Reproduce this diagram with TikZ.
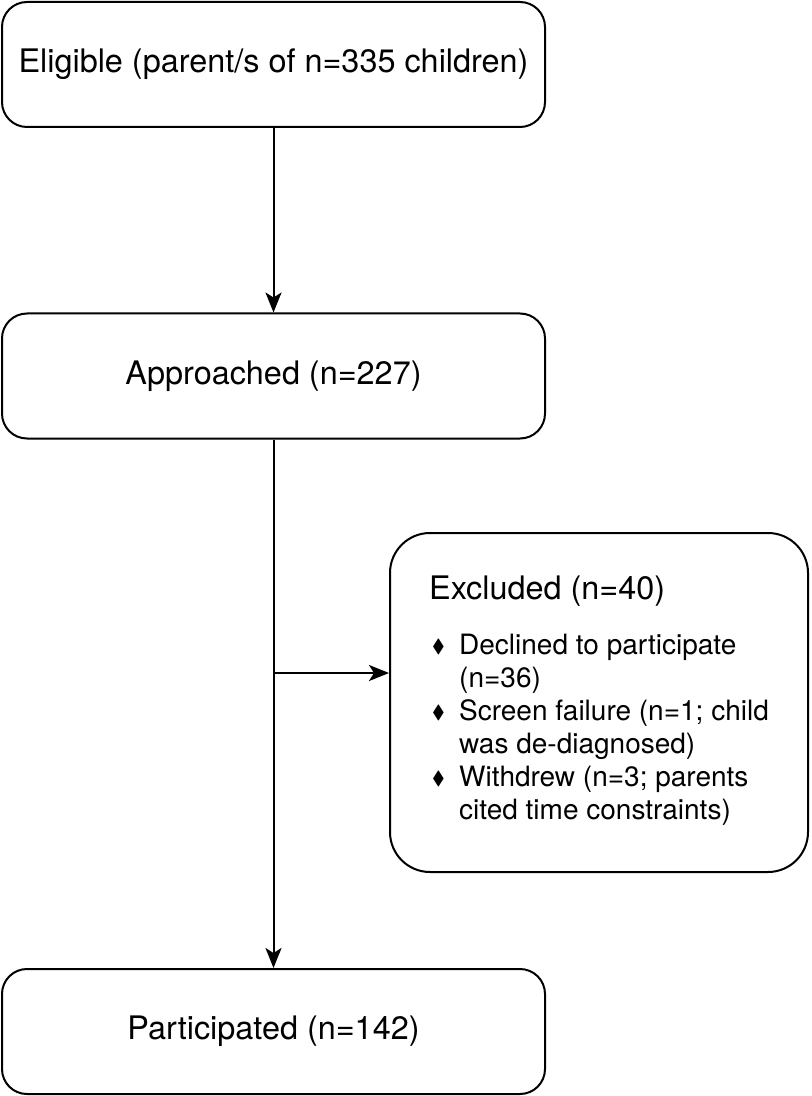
\documentclass[tikz,border=0pt]{standalone}
\usepackage{amssymb}
\usepackage{graphicx}
\usepackage{fontspec}
\setmainfont{TeX Gyre Heros}
\usetikzlibrary{arrows.meta}
\tikzset{basic/.style={draw,line width=1pt,rounded corners=12.5pt,
                       text badly centered,font=\fontsize{16.2}{19}\selectfont}}
\tikzset{stage/.style={basic,minimum width=271.5pt,minimum height=62.5pt}}
\tikzset{exclbox/.style={basic,rounded corners=20pt,minimum width=209pt,
                         minimum height=169.5pt,align=left,
                         font=\fontsize{14}{16.5}\selectfont}}
\newcommand{\bul}{\makebox[15pt][l]{\hspace{1.5pt}\raisebox{0.15ex}{\scalebox{0.68}{$\blacklozenge$}}}}

\begin{document}
\begin{tikzpicture}[x=0.5pt,y=-0.5pt,line width=1pt,
    >={Stealth[length=10pt,width=8pt,inset=2.5pt]}]
    \useasboundingbox (0,0) rectangle (812,1096);

    \node[stage] (elig) at (273.5,64.5) {Eligible (parent/s of n=335 children)};
    \node[stage] (appr) at (273.5,376) {Approached (n=227)};
    \node[stage] (part) at (273.5,1031.5) {Participated (n=142)};

    \node[exclbox] (excl) at (599,702.5) {%
      \begin{tabular}{@{}l@{}l@{}}
        \multicolumn{2}{@{}l@{}}{\fontsize{16.2}{19}\selectfont Excluded (n=40)}\\[11pt]
        \bul & Declined to participate\\
             & (n=36)\\
        \bul & Screen failure (n=1; child\\
             & was de-diagnosed)\\
        \bul & Withdrew (n=3; parents\\
             & cited time constraints)
      \end{tabular}};

    % Connectors
    \draw[->] (elig) -- (appr);
    \draw[->] (appr) -- (part);
    \coordinate (split) at (273.5,673);
    \draw[->] (split) -- (split -| excl.west);
\end{tikzpicture}
\end{document}
